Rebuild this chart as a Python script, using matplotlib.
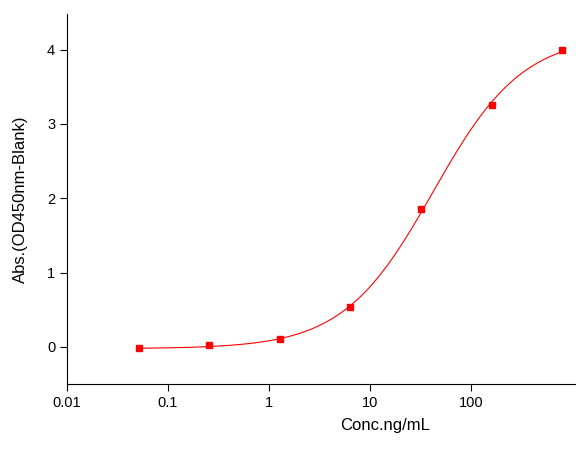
import numpy as np
import matplotlib
matplotlib.use("Agg")
import matplotlib.pyplot as plt
from matplotlib.ticker import FixedLocator, FixedFormatter, MultipleLocator, NullLocator

plt.rcParams["font.family"] = ["Liberation Sans", "DejaVu Sans"]

conc = [0.0512, 0.256, 1.28, 6.4, 32, 160, 800]
absorb = [-0.01, 0.02, 0.10, 0.53, 1.85, 3.26, 3.99]
xtick_vals = [0.01, 0.1, 1, 10, 100]
xtick_labels = ["0.01", "0.1", "1", "10", "100"]

# crude 4-parameter logistic fit by grid search
x = np.array(conc)
y = np.array(absorb)
best = None
for bottom in np.linspace(-0.1, 0.05, 7):
    for top in np.linspace(3.9, 5.0, 23):
        for logc in np.linspace(1.2, 2.2, 41):
            for hill in np.linspace(0.7, 1.5, 33):
                pred = top + (bottom - top) / (1 + (x / 10 ** logc) ** hill)
                err = np.sum((pred - y) ** 2)
                if best is None or err < best[0]:
                    best = (err, bottom, top, logc, hill)
_, bottom, top, logc, hill = best
xs = np.logspace(np.log10(conc[0]), np.log10(conc[-1]), 300)
ys = top + (bottom - top) / (1 + (xs / 10 ** logc) ** hill)

# axes run past the right edge of the picture, as in the reference
right_px = 703
fig = plt.figure(figsize=(5.76, 4.58), dpi=100)
ax = fig.add_axes([67 / 576, 1 - 384 / 458, (right_px - 67) / 576, (384 - 14) / 458])

ax.plot(xs, ys, color="red", linewidth=0.8)
ax.plot(conc, absorb, linestyle="none", marker="s", markersize=5, color="red")

ax.set_xscale("log")
ax.set_xlim(0.01, 0.01 * 10 ** ((right_px - 67) / 101))
ax.set_ylim(-0.5, 4.48)
ax.xaxis.set_major_locator(FixedLocator(xtick_vals))
ax.xaxis.set_major_formatter(FixedFormatter(xtick_labels))
ax.xaxis.set_minor_locator(NullLocator())
ax.yaxis.set_major_locator(MultipleLocator(1))
ax.yaxis.set_minor_locator(NullLocator())

for side in ["top", "right"]:
    ax.spines[side].set_visible(False)
ax.tick_params(which="major", direction="out", length=5, labelsize=10.5)

ax.set_xlabel("Conc.ng/mL", fontsize=12, labelpad=6)
ax.set_ylabel("Abs.(OD450nm-Blank)", fontsize=12, labelpad=14)

fig.savefig("out.png", dpi=100)
